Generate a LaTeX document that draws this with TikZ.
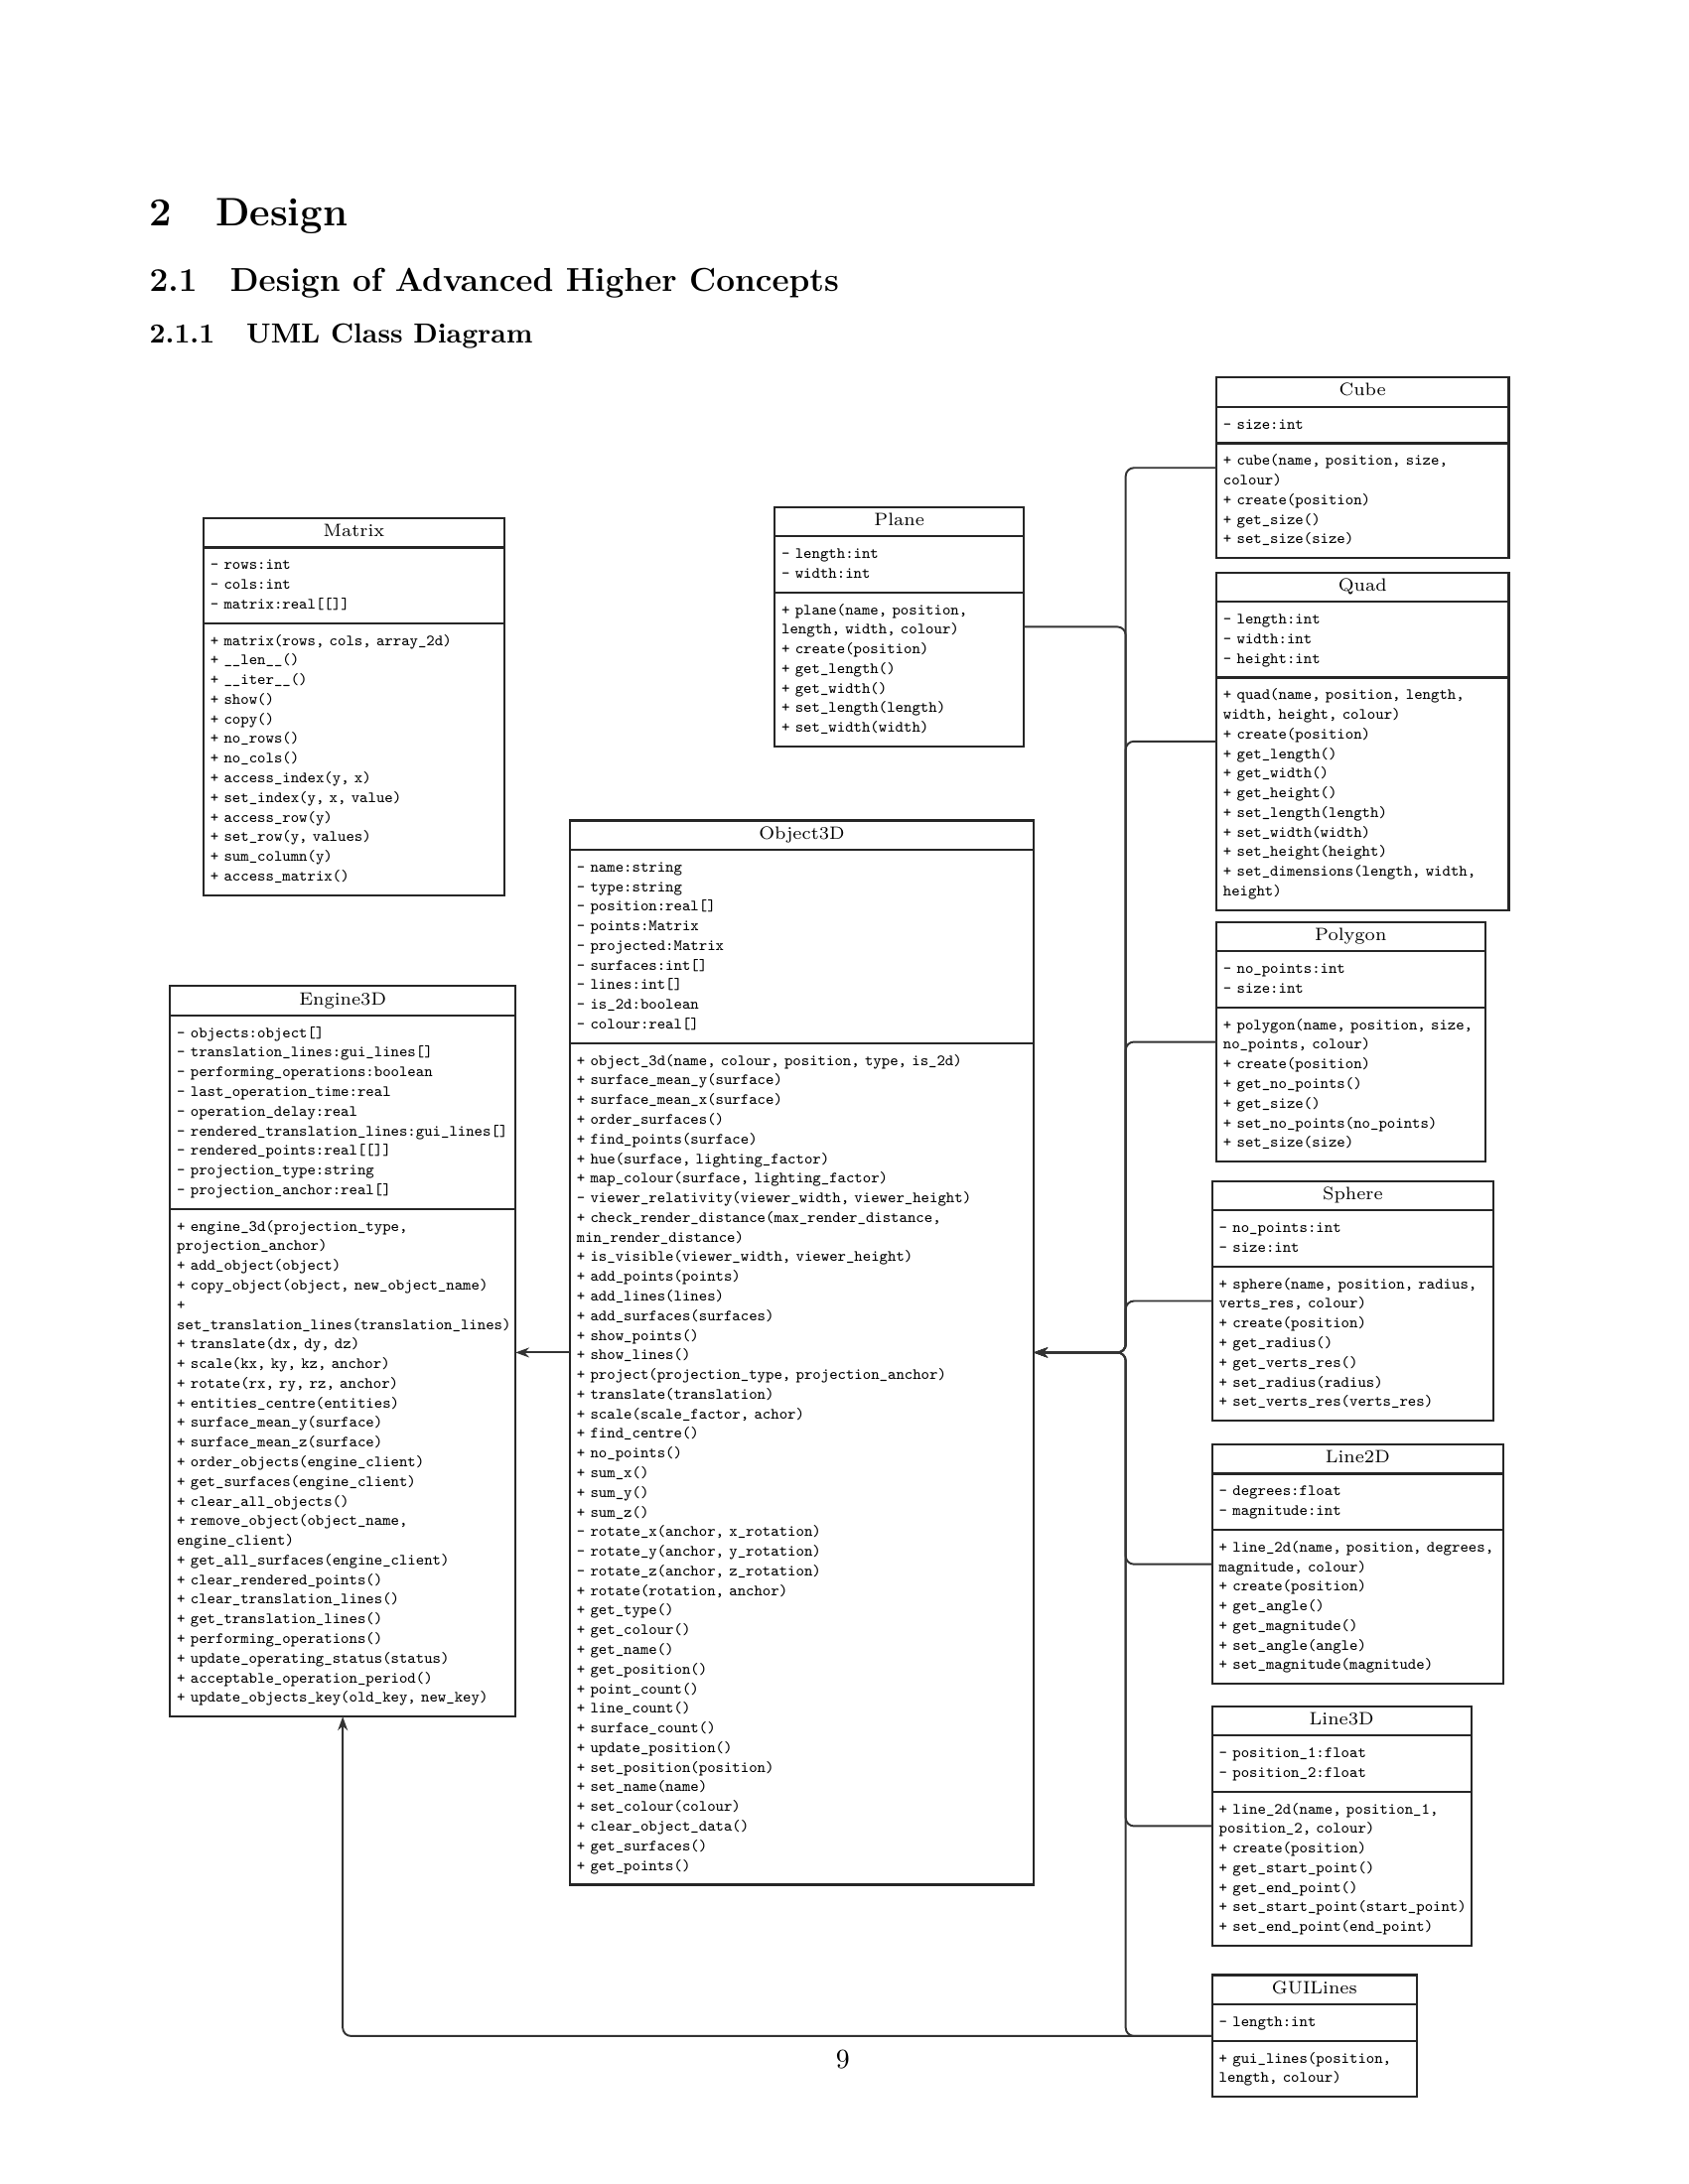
\documentclass[tikz,border=0pt]{standalone}
\usepackage{tikz}
\usetikzlibrary{positioning,fit,arrows.meta}
\newcommand{\umltitlefont}{\rmfamily\fontsize{6.5pt}{7.12pt}\selectfont}
\newcommand{\umlfont}{\ttfamily\fontsize{5.7pt}{7.12pt}\selectfont}

\begin{document}
\begin{tikzpicture}[x=0.5051pt, y=-0.5051pt,
    >={Stealth[length=5pt,width=3.6pt]},
    classname/.style={draw=black!85, line width=0.8pt, outer sep=0pt, inner xsep=2.53pt, inner ysep=1.75pt,
        align=center, font=\umltitlefont, execute at begin node=\strut, execute at end node=\strut},
    members/.style={classname, inner ysep=3.05pt, align=left, font=\umlfont,
        execute at begin node={\rightskip=-30pt plus 1fil\relax\strut}},
    classbox/.style={inner sep=0pt, outer sep=0pt},
    heading/.style={anchor=base west, inner sep=0pt},
    link/.style={draw=black!80, line width=0.7pt, rounded corners=3pt}]
    \useasboundingbox (0,0) rectangle (1212,1568);

    \node [heading, font=\bfseries\fontsize{14.4pt}{17pt}\selectfont] (sec) at (107,162) {2\hspace{1.1em}Design};
    \node [heading, font=\bfseries\fontsize{12pt}{14.5pt}\selectfont] (subsec) at (107,209) {2.1\quad Design of Advanced Higher Concepts};
    \node [heading, font=\bfseries\fontsize{10pt}{12pt}\selectfont] (subsubsec) at (107,246) {2.1.1\hspace{1.15em}UML Class Diagram};

    \node [classname, text width=101.02pt, anchor=north west] (cube-t) at (873,271) {Cube};
    \node [members, text width=101.02pt, below=0pt of cube-t] (cube-a) {- size:int};
    \node [members, text width=101.02pt, below=0pt of cube-a] (cube-m) {+ cube(name, position, size,\\
        colour)\\+ create(position)\\+ get\_size()\\+ set\_size(size)};
    \node [classbox, fit=(cube-t)(cube-m)] (cube) {};

    \node [classname, text width=85.36pt, anchor=north west] (plane-t) at (556,364) {Plane};
    \node [members, text width=85.36pt, below=0pt of plane-t] (plane-a) {- length:int\\- width:int};
    \node [members, text width=85.36pt, below=0pt of plane-a] (plane-m) {+ plane(name, position,\\
        length, width, colour)\\+ create(position)\\+ get\_length()\\+ get\_width()\\
        + set\_length(length)\\+ set\_width(width)};
    \node [classbox, fit=(plane-t)(plane-m)] (plane) {};

    \node [classname, text width=104.05pt, anchor=north west] (matrix-t) at (146,372) {Matrix};
    \node [members, text width=104.05pt, below=0pt of matrix-t] (matrix-a) {- rows:int\\- cols:int\\- matrix:real[[]]};
    \node [members, text width=104.05pt, below=0pt of matrix-a] (matrix-m) {+ matrix(rows, cols, array\_2d)\\
        + \_\_len\_\_()\\+ \_\_iter\_\_()\\+ show()\\+ copy()\\+ no\_rows()\\+ no\_cols()\\
        + access\_index(y, x)\\+ set\_index(y, x, value)\\+ access\_row(y)\\+ set\_row(y, values)\\
        + sum\_column(y)\\+ access\_matrix()};
    \node [classbox, fit=(matrix-t)(matrix-m)] (matrix) {};

    \node [classname, text width=101.02pt, anchor=north west] (quad-t) at (873,411) {Quad};
    \node [members, text width=101.02pt, below=0pt of quad-t] (quad-a) {- length:int\\- width:int\\- height:int};
    \node [members, text width=101.02pt, below=0pt of quad-a] (quad-m) {+ quad(name, position, length,\\
        width, height, colour)\\+ create(position)\\+ get\_length()\\+ get\_width()\\+ get\_height()\\
        + set\_length(length)\\+ set\_width(width)\\+ set\_height(height)\\
        + set\_dimensions(length, width,\\height)};
    \node [classbox, fit=(quad-t)(quad-m)] (quad) {};

    \node [classname, text width=163.15pt, anchor=north west] (obj3d-t) at (409,589) {Object3D};
    \node [members, text width=163.15pt, below=0pt of obj3d-t] (obj3d-a) {- name:string\\- type:string\\
        - position:real[]\\- points:Matrix\\- projected:Matrix\\- surfaces:int[]\\- lines:int[]\\
        - is\_2d:boolean\\- colour:real[]};
    \node [members, text width=163.15pt, below=0pt of obj3d-a] (obj3d-m) {+ object\_3d(name, colour, position, type, is\_2d)\\
        + surface\_mean\_y(surface)\\+ surface\_mean\_x(surface)\\+ order\_surfaces()\\
        + find\_points(surface)\\+ hue(surface, lighting\_factor)\\+ map\_colour(surface, lighting\_factor)\\
        - viewer\_relativity(viewer\_width, viewer\_height)\\
        + check\_render\_distance(max\_render\_distance,\\min\_render\_distance)\\
        + is\_visible(viewer\_width, viewer\_height)\\+ add\_points(points)\\+ add\_lines(lines)\\
        + add\_surfaces(surfaces)\\+ show\_points()\\+ show\_lines()\\
        + project(projection\_type, projection\_anchor)\\+ translate(translation)\\
        + scale(scale\_factor, achor)\\+ find\_centre()\\+ no\_points()\\+ sum\_x()\\+ sum\_y()\\+ sum\_z()\\
        - rotate\_x(anchor, x\_rotation)\\- rotate\_y(anchor, y\_rotation)\\- rotate\_z(anchor, z\_rotation)\\
        + rotate(rotation, anchor)\\+ get\_type()\\+ get\_colour()\\+ get\_name()\\+ get\_position()\\
        + point\_count()\\+ line\_count()\\+ surface\_count()\\+ update\_position()\\
        + set\_position(position)\\+ set\_name(name)\\+ set\_colour(colour)\\+ clear\_object\_data()\\
        + get\_surfaces()\\+ get\_points()};
    \node [classbox, fit=(obj3d-t)(obj3d-m)] (obj3d) {};

    \node [classname, text width=92.43pt, anchor=north west] (polygon-t) at (873,662) {Polygon};
    \node [members, text width=92.43pt, below=0pt of polygon-t] (polygon-a) {- no\_points:int\\- size:int};
    \node [members, text width=92.43pt, below=0pt of polygon-a] (polygon-m) {+ polygon(name, position, size,\\
        no\_points, colour)\\+ create(position)\\+ get\_no\_points()\\+ get\_size()\\
        + set\_no\_points(no\_points)\\+ set\_size(size)};
    \node [classbox, fit=(polygon-t)(polygon-m)] (polygon) {};

    \node [classname, text width=120.21pt, anchor=north west] (engine3d-t) at (122,708) {Engine3D};
    \node [members, text width=120.21pt, below=0pt of engine3d-t] (engine3d-a) {- objects:object[]\\
        - translation\_lines:gui\_lines[]\\- performing\_operations:boolean\\- last\_operation\_time:real\\
        - operation\_delay:real\\- rendered\_translation\_lines:gui\_lines[]\\- rendered\_points:real[[]]\\
        - projection\_type:string\\- projection\_anchor:real[]};
    \node [members, text width=120.21pt, below=0pt of engine3d-a] (engine3d-m) {+ engine\_3d(projection\_type,\\
        projection\_anchor)\\+ add\_object(object)\\+ copy\_object(object, new\_object\_name)\\+\\
        set\_translation\_lines(translation\_lines)\\+ translate(dx, dy, dz)\\+ scale(kx, ky, kz, anchor)\\
        + rotate(rx, ry, rz, anchor)\\+ entities\_centre(entities)\\+ surface\_mean\_y(surface)\\
        + surface\_mean\_z(surface)\\+ order\_objects(engine\_client)\\+ get\_surfaces(engine\_client)\\
        + clear\_all\_objects()\\+ remove\_object(object\_name,\\engine\_client)\\
        + get\_all\_surfaces(engine\_client)\\+ clear\_rendered\_points()\\+ clear\_translation\_lines()\\
        + get\_translation\_lines()\\+ performing\_operations()\\+ update\_operating\_status(status)\\
        + acceptable\_operation\_period()\\+ update\_objects\_key(old\_key, new\_key)};
    \node [classbox, fit=(engine3d-t)(engine3d-m)] (engine3d) {};

    \node [classname, text width=96.98pt, anchor=north west] (sphere-t) at (870,848) {Sphere};
    \node [members, text width=96.98pt, below=0pt of sphere-t] (sphere-a) {- no\_points:int\\- size:int};
    \node [members, text width=96.98pt, below=0pt of sphere-a] (sphere-m) {+ sphere(name, position, radius,\\
        verts\_res, colour)\\+ create(position)\\+ get\_radius()\\+ get\_verts\_res()\\
        + set\_radius(radius)\\+ set\_verts\_res(verts\_res)};
    \node [classbox, fit=(sphere-t)(sphere-m)] (sphere) {};

    \node [classname, text width=100.51pt, anchor=north west] (line2d-t) at (870,1037) {Line2D};
    \node [members, text width=100.51pt, below=0pt of line2d-t] (line2d-a) {- degrees:float\\- magnitude:int};
    \node [members, text width=100.51pt, below=0pt of line2d-a] (line2d-m) {+ line\_2d(name, position, degrees,\\
        magnitude, colour)\\+ create(position)\\+ get\_angle()\\+ get\_magnitude()\\
        + set\_angle(angle)\\+ set\_magnitude(magnitude)};
    \node [classbox, fit=(line2d-t)(line2d-m)] (line2d) {};

    \node [classname, text width=88.90pt, anchor=north west] (line3d-t) at (870,1225) {Line3D};
    \node [members, text width=88.90pt, below=0pt of line3d-t] (line3d-a) {- position\_1:float\\- position\_2:float};
    \node [members, text width=88.90pt, below=0pt of line3d-a] (line3d-m) {+ line\_2d(name, position\_1,\\
        position\_2, colour)\\+ create(position)\\+ get\_start\_point()\\+ get\_end\_point()\\
        + set\_start\_point(start\_point)\\+ set\_end\_point(end\_point)};
    \node [classbox, fit=(line3d-t)(line3d-m)] (line3d) {};

    \node [classname, text width=69.20pt, anchor=north west] (guilines-t) at (870,1418) {GUILines};
    \node [members, text width=69.20pt, below=0pt of guilines-t] (guilines-a) {- length:int};
    \node [members, text width=69.20pt, below=0pt of guilines-a] (guilines-m) {+ gui\_lines(position,\\
        length, colour)};
    \node [classbox, fit=(guilines-t)(guilines-m)] (guilines) {};

    \coordinate (trunk) at (808,0 |- obj3d.east);
    \foreach \cls in {cube,quad,polygon,sphere,line2d,line3d,guilines}
        \draw [link,->] (\cls.west) -| (trunk) -- (obj3d.east);
    \draw [link,->] (plane.east) -| (trunk) -- (obj3d.east);
    \draw [link,->] (obj3d.west) -- (obj3d.west -| engine3d.east);
    \draw [link,->] (guilines.west) -| (engine3d.south);

    \node [anchor=base, inner sep=0pt, font=\fontsize{10pt}{12pt}\selectfont] (pagenum) at (605,1485) {9};
\end{tikzpicture}
\end{document}
